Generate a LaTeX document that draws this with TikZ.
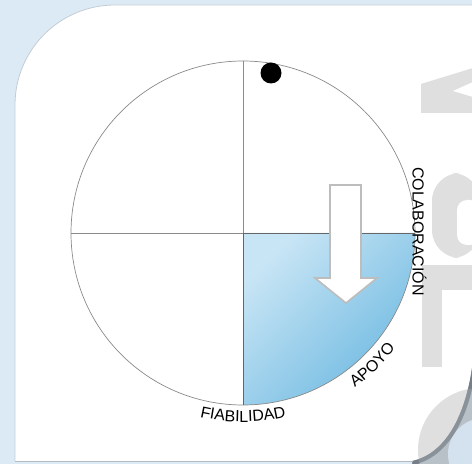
\documentclass[tikz,border=0pt]{standalone}
\usepackage{fontspec}
\newfontfamily\lblfont{Liberation Sans}
\newcommand\lblsz{\lblfont\fontsize{16}{19}\selectfont}
\usetikzlibrary{decorations.text}
\definecolor{bgblue}{HTML}{DCEAF5}
\definecolor{wmgray}{HTML}{DFDFDF}
\definecolor{ringgray}{HTML}{8A8A8A}
\definecolor{qlight}{HTML}{C8E5F5}
\definecolor{qdark}{HTML}{6EB9E1}
\definecolor{arrowgray}{HTML}{BDBDBD}
\definecolor{curldark}{HTML}{8A929B}
\definecolor{curlmid}{HTML}{B8C0C8}
\definecolor{curlblue}{HTML}{D3E2EE}
\definecolor{curlshadow}{HTML}{6A727B}
\definecolor{edgegray}{HTML}{C3CCD4}
\definecolor{bottomgray}{HTML}{B5BBC1}
\begin{document}
\begin{tikzpicture}[x=1pt,y=1pt,
  ringline/.style={draw=ringgray, line width=0.7pt},
  lbl/.style={font=\lblsz, inner sep=0pt},
  wm/.style={fill=wmgray}]
\useasboundingbox (0,0) rectangle (472,464);
% background
\fill[bgblue] (0,0) rectangle (472,464);
% white panel
\fill[white] (15,3) -- (15,359) arc[start angle=180,end angle=90,radius=100] -- (473,459) -- (473,104) .. controls (467,50) and (446,10) .. (412,3) -- cycle;
% watermark, clipped to panel
\begin{scope}
\clip (15,3) -- (15,359) arc[start angle=180,end angle=90,radius=100] -- (473,459) -- (473,104) .. controls (467,50) and (446,10) .. (412,3) -- cycle;
% top letter (px y 68-113)
\fill[wm] (421,380) -- (473,396) -- (473,351) -- (421,351) -- cycle;
\fill[white] (453,373) -- (473,382) -- (473,367) -- cycle;
% round-topped letter (px y 173-258)
\fill[wm, rounded corners=28] (480,206) -- (432,206) -- (432,291) -- (480,291) -- cycle;
\fill[white, rounded corners=10] (480,219) -- (457,219) -- (457,264) -- (480,264) -- cycle;
% T-like letter (px y 265-367)
\fill[wm] (422,97) rectangle (442,199);
\fill[wm] (442,174) rectangle (480,199);
% round letter at the bottom
\fill[wm] (480,14) circle[radius=62];
\end{scope}
% page curl corner
\begin{scope}
\clip (473,104) .. controls (467,50) and (446,10) .. (412,3) -- (412,0) -- (473,0) -- cycle;
\fill[curldark] (380,0) rectangle (473,110);
\fill[curlmid] (480,14) circle[radius=62];
\fill[curlblue] (484,10) circle[radius=36];
\draw[curlshadow, opacity=0.6, line width=8pt] (473,104) .. controls (467,50) and (446,10) .. (412,3);
\end{scope}
% panel edges
\draw[edgegray, line width=0.8pt] (15,3) -- (15,359) arc[start angle=180,end angle=90,radius=100] -- (473,459);
\draw[bottomgray, line width=1.6pt] (15,2.5) -- (413,2.5);
% quadrant fill
\path[top color=qlight, bottom color=qdark, shading angle=45] (243,231) -- (415,231) arc[start angle=0,end angle=-90,radius=172] -- cycle;
% circle and axes
\coordinate (c) at (243,231);
\coordinate (ctop) at (243,403);
\coordinate (cbot) at (243,59);
\coordinate (cleft) at (71,231);
\coordinate (cright) at (415,231);
\draw[ringline] (c) circle[radius=172];
\draw[ringline] (ctop) -- (cbot);
\draw[ringline] (cleft) -- (cright);
\draw[draw=black!60, line width=0.7pt] (cright) -- (c) -- (cbot);
% arrow
\draw[arrowgray, fill=white, line width=1.6pt, line join=miter]
  (330,279) -- (361,279) -- (361,186) -- (377,186) -- (346,161) -- (315,186) -- (330,186) -- cycle;
% dot
\fill[black] (271,391) circle[radius=10.5];
% labels
\node[lbl, rotate=-90, anchor=base] (colab) at (412.5,232.5) {COLABORACIÓN};
\path[decorate, decoration={text along path, text={|\lblsz|FIABILIDAD}, text align=center}]
  (c) ++(-120:189) arc[start angle=-120, end angle=-60, radius=189];
\path[decorate, decoration={text along path, text={|\lblsz|APOYO}, text align=center}]
  (c) ++(-69.6:191) arc[start angle=-69.6, end angle=-21.6, radius=191];
\end{tikzpicture}
\end{document}
